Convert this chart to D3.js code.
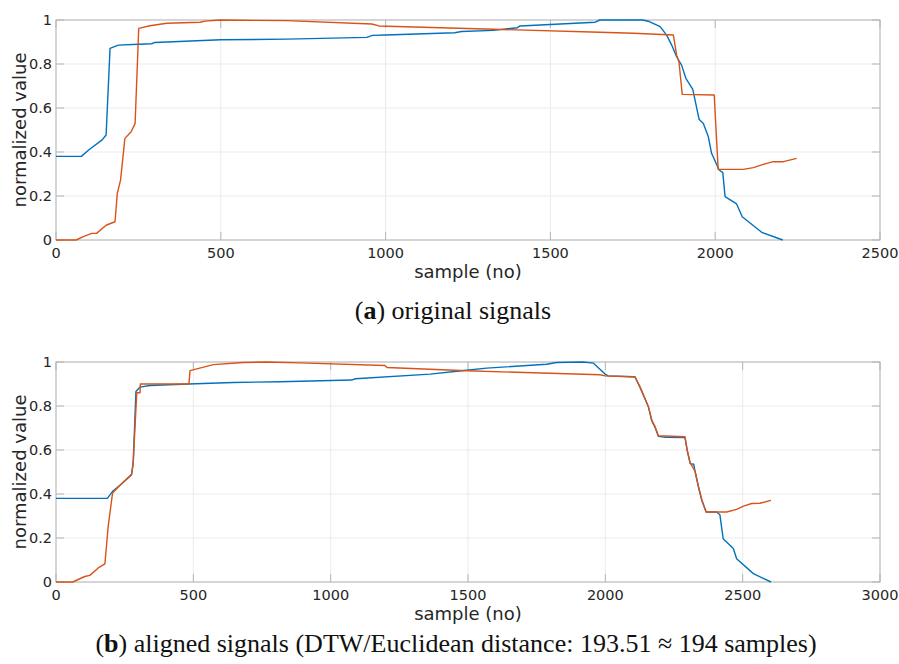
<!DOCTYPE html>
<html>
<head>
<meta charset="utf-8">
<script src="https://cdn.jsdelivr.net/npm/d3@7"></script>
<style>
  body { margin: 0; background: #fff; }
  svg { display: block; }
  .tick-label { font-family: "DejaVu Sans", sans-serif; font-size: 14.5px; fill: #262626; }
  .axis-title { font-family: "DejaVu Sans", sans-serif; font-size: 18px; fill: #262626; }
  .caption { font-family: "Liberation Serif", serif; font-size: 26px; fill: #111; }
</style>
</head>
<body>
<svg id="chart" width="899" height="664"></svg>
<script>
// ---- data ----
var yTicks = [0, 0.2, 0.4, 0.6, 0.8, 1];
var yTickLabels = ["0", "0.2", "0.4", "0.6", "0.8", "1"];
var xTicksOrig = [0, 500, 1000, 1500, 2000, 2500];
var xTicksAligned = [0, 500, 1000, 1500, 2000, 2500, 3000];

// (a) original signals: [sample, value]
var origBlue = [
  [0, 0.38], [77, 0.38], [100, 0.41], [140, 0.455], [152, 0.477], [164, 0.871], [189, 0.886],
  [250, 0.89], [290, 0.892], [300, 0.898], [500, 0.91], [700, 0.913], [943, 0.921], [960, 0.93],
  [1000, 0.932], [1210, 0.942], [1230, 0.948], [1327, 0.953], [1400, 0.965], [1408, 0.973],
  [1636, 0.99], [1650, 1.0], [1780, 1.0], [1800, 0.993], [1833, 0.97], [1853, 0.93], [1868, 0.886],
  [1883, 0.833], [1898, 0.795], [1911, 0.735], [1932, 0.685], [1951, 0.549], [1964, 0.53],
  [1979, 0.47], [1989, 0.394], [2012, 0.318], [2023, 0.306], [2030, 0.197], [2065, 0.164],
  [2082, 0.106], [2141, 0.035], [2205, 0]
];
var origOrange = [
  [0, 0], [61, 0], [83, 0.015], [108, 0.03], [123, 0.03], [152, 0.067], [179, 0.083], [186, 0.212],
  [196, 0.273], [209, 0.462], [228, 0.492], [240, 0.53], [251, 0.962], [285, 0.974], [336, 0.985],
  [437, 0.99], [452, 0.995], [498, 1.0], [700, 0.997], [958, 0.982], [980, 0.973], [1327, 0.958],
  [1650, 0.944], [1752, 0.94], [1873, 0.932], [1883, 0.84], [1890, 0.81], [1900, 0.662],
  [1997, 0.659], [2009, 0.321], [2085, 0.321], [2116, 0.329], [2146, 0.344], [2176, 0.356],
  [2207, 0.356], [2247, 0.371]
];

// (b) aligned signals: [sample, value]
var alignedBlue = [
  [0, 0.38], [187, 0.38], [206, 0.412], [233, 0.44], [275, 0.488], [281, 0.54], [291, 0.866],
  [306, 0.886], [342, 0.893], [482, 0.9], [645, 0.907], [816, 0.91], [1076, 0.918], [1090, 0.924],
  [1362, 0.945], [1477, 0.96], [1568, 0.972], [1786, 0.99], [1823, 0.998], [1920, 1.0],
  [1956, 0.995], [1999, 0.945], [2010, 0.937], [2108, 0.933], [2126, 0.885], [2139, 0.848],
  [2157, 0.795], [2169, 0.733], [2181, 0.703], [2193, 0.662], [2220, 0.658], [2290, 0.657],
  [2298, 0.598], [2309, 0.538], [2322, 0.535], [2327, 0.5], [2339, 0.432], [2351, 0.372],
  [2367, 0.318], [2405, 0.318], [2417, 0.306], [2429, 0.197], [2466, 0.152], [2478, 0.106],
  [2539, 0.038], [2603, 0]
];
var alignedOrange = [
  [0, 0], [61, 0], [105, 0.025], [123, 0.03], [154, 0.064], [178, 0.082], [190, 0.253],
  [206, 0.405], [233, 0.44], [275, 0.488], [281, 0.54], [294, 0.86], [306, 0.86], [307, 0.9],
  [484, 0.9], [488, 0.961], [573, 0.988], [682, 0.998], [767, 1.0], [888, 0.996], [1198, 0.984],
  [1205, 0.975], [1495, 0.96], [1981, 0.942], [1999, 0.937], [2108, 0.932], [2126, 0.888],
  [2139, 0.85], [2157, 0.797], [2169, 0.736], [2181, 0.706], [2193, 0.665], [2290, 0.66],
  [2298, 0.6], [2309, 0.541], [2327, 0.503], [2339, 0.435], [2351, 0.375], [2367, 0.318],
  [2442, 0.318], [2478, 0.33], [2503, 0.345], [2533, 0.357], [2563, 0.358], [2603, 0.371]
];

var BLUE = "#0072BD", ORANGE = "#D95319";

var svg = d3.select("#chart");

function drawPanel(opt) {
  var x = d3.scaleLinear().domain([0, opt.xMax]).range([opt.left, opt.right]);
  var y = d3.scaleLinear().domain([0, 1]).range([opt.bottom, opt.top]);
  var g = svg.append("g");

  // grid
  g.selectAll(".gx").data(opt.xTicks).enter().append("line")
      .attr("x1", function(d) { return x(d); }).attr("x2", function(d) { return x(d); })
      .attr("y1", opt.top).attr("y2", opt.bottom)
      .attr("stroke", "#ebebeb").attr("stroke-width", 1);
  g.selectAll(".gy").data(yTicks).enter().append("line")
      .attr("x1", opt.left).attr("x2", opt.right)
      .attr("y1", function(d) { return y(d); }).attr("y2", function(d) { return y(d); })
      .attr("stroke", "#ebebeb").attr("stroke-width", 1);

  // ticks (inward, all four sides)
  var tl = 8;
  opt.xTicks.forEach(function(d) {
    g.append("line").attr("x1", x(d)).attr("x2", x(d)).attr("y1", opt.bottom).attr("y2", opt.bottom - tl)
        .attr("stroke", "#b5b5b5");
    g.append("line").attr("x1", x(d)).attr("x2", x(d)).attr("y1", opt.top).attr("y2", opt.top + tl)
        .attr("stroke", "#b5b5b5");
  });
  yTicks.forEach(function(d) {
    g.append("line").attr("x1", opt.left).attr("x2", opt.left + tl).attr("y1", y(d)).attr("y2", y(d))
        .attr("stroke", "#b5b5b5");
    g.append("line").attr("x1", opt.right).attr("x2", opt.right - tl).attr("y1", y(d)).attr("y2", y(d))
        .attr("stroke", "#b5b5b5");
  });

  // box
  g.append("rect")
      .attr("x", opt.left).attr("y", opt.top)
      .attr("width", opt.right - opt.left).attr("height", opt.bottom - opt.top)
      .attr("fill", "none").attr("stroke", "#b5b5b5").attr("stroke-width", 1);

  // tick labels
  g.selectAll(".xl").data(opt.xTicks).enter().append("text")
      .attr("class", "tick-label")
      .attr("x", function(d) { return x(d); })
      .attr("y", opt.bottom + 13)
      .attr("text-anchor", "middle")
      .attr("dominant-baseline", "central")
      .text(function(d) { return d; });
  g.selectAll(".yl").data(yTicks).enter().append("text")
      .attr("class", "tick-label")
      .attr("x", opt.left - 4)
      .attr("y", function(d) { return y(d); })
      .attr("text-anchor", "end")
      .attr("dominant-baseline", "central")
      .text(function(d, i) { return yTickLabels[i]; });

  // axis titles
  g.append("text").attr("class", "axis-title")
      .attr("x", (opt.left + opt.right) / 2).attr("y", opt.bottom + 31)
      .attr("text-anchor", "middle").attr("dominant-baseline", "central")
      .text("sample (no)");
  g.append("text").attr("class", "axis-title")
      .attr("transform", "translate(19," + ((opt.top + opt.bottom) / 2) + ") rotate(-90)")
      .attr("text-anchor", "middle").attr("dominant-baseline", "central")
      .text("normalized value");

  // lines
  var line = d3.line().x(function(d) { return x(d[0]); }).y(function(d) { return y(d[1]); });
  g.append("path").datum(opt.blue).attr("d", line)
      .attr("fill", "none").attr("stroke", BLUE).attr("stroke-width", 1.4).attr("stroke-linejoin", "round");
  g.append("path").datum(opt.orange).attr("d", line)
      .attr("fill", "none").attr("stroke", ORANGE).attr("stroke-width", 1.4).attr("stroke-linejoin", "round");

  // caption
  var cap = svg.append("text").attr("class", "caption")
      .attr("x", opt.capX).attr("y", opt.capY)
      .attr("text-anchor", "middle").attr("dominant-baseline", "central");
  cap.append("tspan").text("(");
  cap.append("tspan").attr("font-weight", "bold").text(opt.capLetter);
  cap.append("tspan").text(")" + opt.capText);
}

drawPanel({
  left: 56, right: 880, top: 20, bottom: 240, xMax: 2500, xTicks: xTicksOrig,
  blue: origBlue, orange: origOrange,
  capX: 453, capY: 310, capLetter: "a", capText: " original signals"
});
drawPanel({
  left: 56, right: 880, top: 362, bottom: 582, xMax: 3000, xTicks: xTicksAligned,
  blue: alignedBlue, orange: alignedOrange,
  capX: 456, capY: 643, capLetter: "b", capText: " aligned signals (DTW/Euclidean distance: 193.51 \u2248 194 samples)"
});
</script>
</body>
</html>
